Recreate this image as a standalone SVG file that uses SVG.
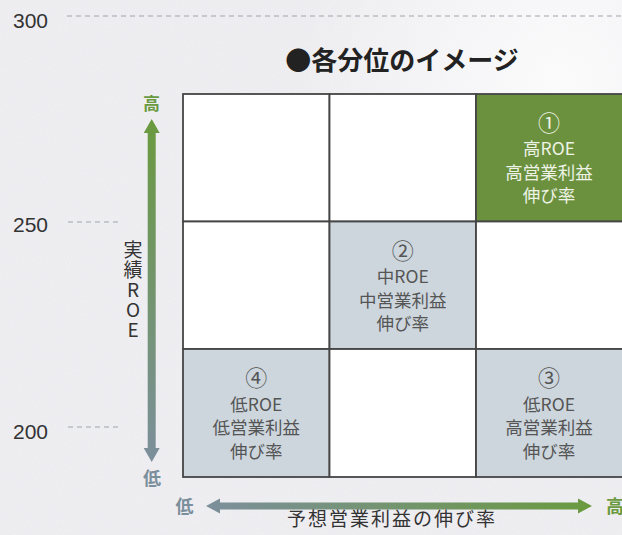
<svg xmlns="http://www.w3.org/2000/svg" width="622" height="535" viewBox="0 0 622 535">
<defs>
<style>
.cell{stroke:#454545;stroke-width:1.8}
.w{fill:#ffffff}
.g{fill:#cdd6dd}
.gr{fill:#6b913e}
.t{font-family:"Noto Sans CJK JP","Noto Sans",sans-serif;text-anchor:middle}
.dk{fill:#555555}
.lt{fill:#eef3e6}
.cn{font-size:22px}
.ln{font-size:17.5px}
.num{font-family:"Liberation Sans",Arial,sans-serif;font-size:21px;fill:#333333}
.dash{stroke:#9aa6ae;stroke-width:1.2;stroke-dasharray:5 4;fill:none}
</style>
<linearGradient id="vgrad" gradientUnits="userSpaceOnUse" x1="0" y1="119" x2="0" y2="462">
<stop offset="0" stop-color="#6a9a3f"/>
<stop offset="1" stop-color="#7c8f9c"/>
</linearGradient>
<linearGradient id="hgrad" gradientUnits="userSpaceOnUse" x1="206" y1="0" x2="592" y2="0">
<stop offset="0" stop-color="#7c8f9c"/>
<stop offset="1" stop-color="#6a9a3f"/>
</linearGradient>
<radialGradient id="bgglow" cx="560" cy="80" r="260" gradientUnits="userSpaceOnUse">
<stop offset="0" stop-color="#ffffff" stop-opacity="0.8"/>
<stop offset="1" stop-color="#ffffff" stop-opacity="0"/>
</radialGradient>
<filter id="noise" x="0" y="0" width="100%" height="100%">
<feTurbulence type="fractalNoise" baseFrequency="0.9" numOctaves="2" seed="3"/>
<feColorMatrix type="matrix" values="0 0 0 0 1  0 0 0 0 1  0 0 0 0 1  0 0 0 0.35 -0.05"/>
</filter>
</defs>

<g id="background">
<rect x="0" y="0" width="622" height="535" fill="#ebeaee"/>
<rect x="0" y="0" width="622" height="535" filter="url(#noise)"/>
<rect x="0" y="0" width="622" height="535" fill="url(#bgglow)"/>
</g>

<g id="y-scale">
<text class="num" x="13" y="28">300</text>
<line class="dash" x1="67" y1="16" x2="622" y2="16"/>
<text class="num" x="13" y="232">250</text>
<line class="dash" x1="68" y1="222" x2="118" y2="222"/>
<text class="num" x="13" y="439">200</text>
<line class="dash" x1="68" y1="427" x2="118" y2="427"/>
</g>

<text id="title" class="t" x="402" y="70" style="font-size:26px;font-weight:bold;fill:#222222">●各分位のイメージ</text>

<g id="cell-r1c1"><rect class="cell w" x="183" y="94" width="146.5" height="127.5"/></g>
<g id="cell-r1c2"><rect class="cell w" x="329.5" y="94" width="146.5" height="127.5"/></g>
<g id="cell-1">
<rect class="cell gr" x="476" y="94" width="147" height="127.5"/>
<text class="t lt cn" x="549" y="131">①</text>
<text class="t lt ln" x="549" y="155">高ROE</text>
<text class="t lt ln" x="549" y="178.5">高営業利益</text>
<text class="t lt ln" x="549" y="202">伸び率</text>
</g>

<g id="cell-r2c1"><rect class="cell w" x="183" y="221.5" width="146.5" height="127.5"/></g>
<g id="cell-2">
<rect class="cell g" x="329.5" y="221.5" width="146.5" height="127.5"/>
<text class="t dk cn" x="402.75" y="258.5">②</text>
<text class="t dk ln" x="402.75" y="283">中ROE</text>
<text class="t dk ln" x="402.75" y="306.5">中営業利益</text>
<text class="t dk ln" x="402.75" y="330">伸び率</text>
</g>
<g id="cell-r2c3"><rect class="cell w" x="476" y="221.5" width="147" height="127.5"/></g>

<g id="cell-4">
<rect class="cell g" x="183" y="349" width="146.5" height="128"/>
<text class="t dk cn" x="256.25" y="386">④</text>
<text class="t dk ln" x="256.25" y="410.5">低ROE</text>
<text class="t dk ln" x="256.25" y="434">低営業利益</text>
<text class="t dk ln" x="256.25" y="457.5">伸び率</text>
</g>
<g id="cell-r3c2"><rect class="cell w" x="329.5" y="349" width="146.5" height="128"/></g>
<g id="cell-3">
<rect class="cell g" x="476" y="349" width="147" height="128"/>
<text class="t dk cn" x="549" y="386">③</text>
<text class="t dk ln" x="549" y="410.5">低ROE</text>
<text class="t dk ln" x="549" y="434">高営業利益</text>
<text class="t dk ln" x="549" y="457.5">伸び率</text>
</g>

<g id="connectors">
<path id="axis-v" d="M151.7,119 L159.7,133 L155.7,133 L155.7,448 L159.7,448 L151.7,462 L143.7,448 L147.7,448 L147.7,133 L143.7,133 Z" fill="url(#vgrad)"/>
<path id="axis-h" d="M206,506 L220,498.5 L220,502.5 L578,502.5 L578,498.5 L592,506 L578,513.5 L578,509.5 L220,509.5 L220,513.5 Z" fill="url(#hgrad)"/>
</g>

<g id="axis-labels">
<text class="t" x="151.5" y="110" style="font-size:17px;font-weight:bold;fill:#6a9a3f">高</text>
<text class="t" x="152" y="485" style="font-size:18px;font-weight:bold;fill:#7c8f9c">低</text>
<text class="t" x="184.5" y="513" style="font-size:18px;font-weight:bold;fill:#7c8f9c">低</text>
<text x="606" y="513" style="font-family:'Noto Sans CJK JP',sans-serif;font-size:18px;font-weight:bold;fill:#6a9a3f">高</text>
<text x="133" y="240" style="font-family:'Noto Sans CJK JP','Noto Sans',sans-serif;font-size:19px;letter-spacing:1px;fill:#333333;writing-mode:vertical-rl;text-orientation:upright">実績ROE</text>
<text class="t" x="392" y="526" style="font-size:19px;letter-spacing:2px;fill:#333333">予想営業利益の伸び率</text>
</g>
</svg>
